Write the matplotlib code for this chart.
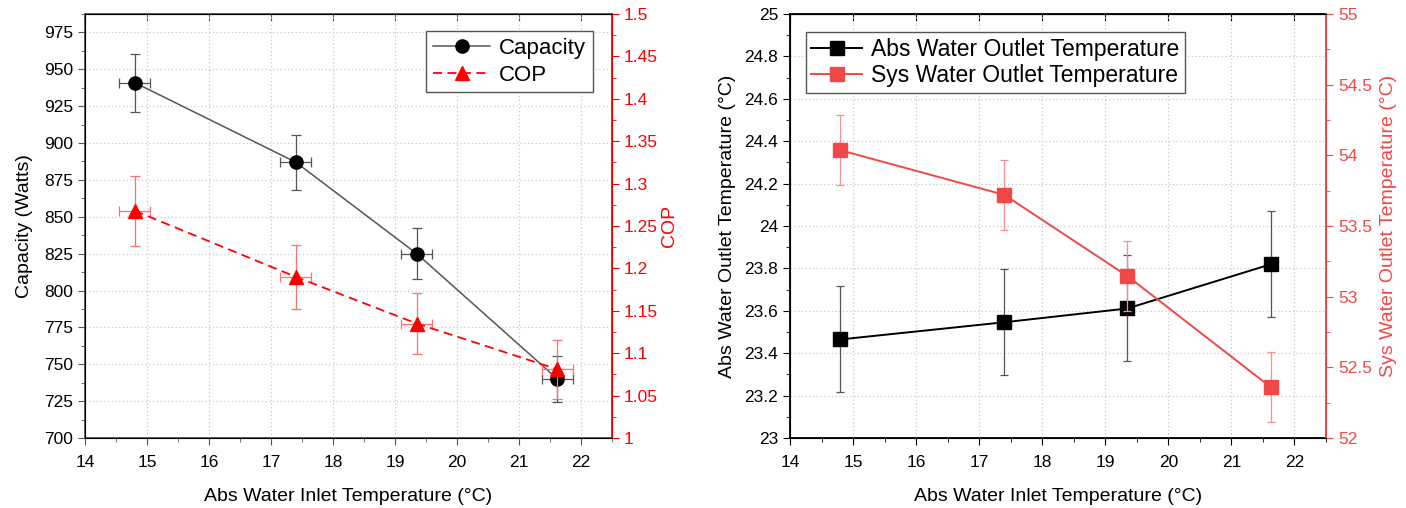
import numpy as np
import matplotlib.pyplot as plt
from matplotlib.ticker import MultipleLocator

plt.rcParams['font.family'] = ['Liberation Sans', 'DejaVu Sans']

# data
inlet_temp = [14.8, 17.4, 19.35, 21.62]
inlet_err = [0.25, 0.25, 0.25, 0.25]

capacity = [941, 887, 825, 740]
capacity_err = [19.7, 18.6, 17.5, 15.5]

cop = [1.268, 1.190, 1.135, 1.081]
cop_err = [0.041, 0.038, 0.036, 0.035]

abs_out = [23.465, 23.546, 23.611, 23.819]
abs_out_err = [0.25, 0.25, 0.25, 0.25]

sys_out = [54.036, 53.72, 53.146, 52.361]
sys_out_err = [0.247, 0.25, 0.25, 0.25]

W, H = 1406, 508
fig = plt.figure(figsize=(W / 100, H / 100), dpi=100)

def box(x0, y0, x1, y1):
    return [x0 / W, 1 - y1 / H, (x1 - x0) / W, (y1 - y0) / H]

RED = '#ff0000'
RED2 = '#f04848'
GRID = dict(linestyle=(0, (1, 2)), color='#c8c8c8', linewidth=0.9)

def style_x(ax, spine_col):
    ax.set_xlim(14, 22.5)
    ax.xaxis.set_major_locator(MultipleLocator(1))
    ax.xaxis.set_minor_locator(MultipleLocator(0.5))
    ax.tick_params(axis='x', which='major', direction='out', length=5, labelsize=12.5, pad=7, color=spine_col)
    ax.tick_params(axis='x', which='minor', direction='out', length=3, color=spine_col)
    ax.set_xlabel('Abs Water Inlet Temperature (°C)', fontsize=14, labelpad=13)
    top = ax.secondary_xaxis('top')
    top.set_xticks(np.arange(14, 23, 1))
    top.tick_params(direction='in', length=5, labeltop=False, color=spine_col)
    top.spines['top'].set_color(spine_col)

# ---------------- left panel ----------------
ax1 = fig.add_axes(box(85, 14, 612, 438))
ax1b = ax1.twinx()

c1 = ax1.errorbar(inlet_temp, capacity, yerr=capacity_err, xerr=inlet_err, fmt='-o',
                  color='#555555', mfc='black', mec='black', ms=9.5, lw=1.1,
                  ecolor='#555555', elinewidth=0.9, capsize=3.5, capthick=0.9,
                  zorder=3)
c2 = ax1b.errorbar(inlet_temp, cop, yerr=cop_err, xerr=inlet_err, fmt='--^',
                   color=RED, mfc=RED, mec=RED, ms=10, lw=1.3, dashes=(5, 3),
                   ecolor='#ff7070', elinewidth=0.9, capsize=3.5, capthick=0.9,
                   zorder=3)

ax1.set_ylim(700, 987.5)
ax1.yaxis.set_major_locator(MultipleLocator(25))
ax1.yaxis.set_minor_locator(MultipleLocator(12.5))
ax1.tick_params(axis='y', which='major', direction='out', length=5, labelsize=12.5, color='#555555')
ax1.tick_params(axis='y', which='minor', direction='out', length=3, color='#555555')
ax1.set_ylabel('Capacity (Watts)', fontsize=14, labelpad=8)
style_x(ax1, '#555555')
ax1.grid(True, which='major', **GRID)
for s in ['left', 'bottom', 'top']:
    ax1.spines[s].set_color('#555555')
    ax1.spines[s].set_linewidth(1.3)

ax1b.set_ylim(1, 1.5)
ax1b.set_yticks(np.arange(1, 1.501, 0.05))
ax1b.set_yticklabels(['1', '1.05', '1.1', '1.15', '1.2', '1.25', '1.3', '1.35', '1.4', '1.45', '1.5'])
ax1b.yaxis.set_minor_locator(MultipleLocator(0.025))
ax1b.tick_params(axis='y', which='major', direction='out', length=5, labelsize=12.5, colors=RED)
ax1b.tick_params(axis='y', which='minor', direction='out', length=3, color=RED)
ax1b.spines['right'].set_color(RED)
ax1b.spines['right'].set_linewidth(1.3)
ax1b.set_ylabel('COP', fontsize=14, color=RED, labelpad=2)

leg = ax1b.legend([c1[0], c2[0]], ['Capacity', 'COP'], loc='upper right',
                  bbox_to_anchor=(0.985, 0.985),
                  fontsize=16, fancybox=False, edgecolor='#555555', framealpha=1,
                  handlelength=2.6, borderpad=0.3, labelspacing=0.25, handletextpad=0.4)
leg.get_frame().set_linewidth(1.0)

# ---------------- right panel ----------------
ax2 = fig.add_axes(box(790, 14, 1326, 438))
ax2b = ax2.twinx()

c3 = ax2.errorbar(inlet_temp, abs_out, yerr=abs_out_err, fmt='-s',
                  color='black', ms=10, lw=1.4,
                  ecolor='#555555', elinewidth=0.9, capsize=3, capthick=0.9,
                  zorder=3)
c4 = ax2b.errorbar(inlet_temp, sys_out, yerr=sys_out_err, fmt='-s',
                   color=RED2, ms=10, lw=1.4,
                   ecolor='#f59090', elinewidth=0.9, capsize=3, capthick=0.9,
                   zorder=3)

ax2.set_ylim(23, 25)
ax2.set_yticks(np.arange(23, 25.001, 0.2))
ax2.set_yticklabels(['23', '23.2', '23.4', '23.6', '23.8', '24', '24.2', '24.4', '24.6', '24.8', '25'])
ax2.yaxis.set_minor_locator(MultipleLocator(0.1))
ax2.tick_params(axis='y', which='major', direction='out', length=5, labelsize=12.5)
ax2.tick_params(axis='y', which='minor', direction='out', length=3)
ax2.set_ylabel('Abs Water Outlet Temperature (°C)', fontsize=14, labelpad=6)
style_x(ax2, 'black')
ax2.grid(True, which='major', **GRID)
for s in ['left', 'bottom', 'top']:
    ax2.spines[s].set_linewidth(1.3)

ax2b.set_ylim(52, 55)
ax2b.set_yticks(np.arange(52, 55.01, 0.5))
ax2b.set_yticklabels(['52', '52.5', '53', '53.5', '54', '54.5', '55'])
ax2b.yaxis.set_minor_locator(MultipleLocator(0.25))
ax2b.tick_params(axis='y', which='major', direction='out', length=5, labelsize=12.5, colors=RED2)
ax2b.tick_params(axis='y', which='minor', direction='out', length=3, color=RED2)
ax2b.spines['right'].set_color(RED2)
ax2b.spines['right'].set_linewidth(1.3)
ax2b.set_ylabel('Sys Water Outlet Temperature (°C)', fontsize=14, color=RED2, labelpad=6)

leg2 = ax2b.legend([c3[0], c4[0]], ['Abs Water Outlet Temperature', 'Sys Water Outlet Temperature'],
                   loc='upper left', bbox_to_anchor=(0.008, 0.985),
                   fontsize=16.5, fancybox=False, edgecolor='#555555', framealpha=1,
                   handlelength=2.2, borderpad=0.25, labelspacing=0.15, handletextpad=0.4)
leg2.get_frame().set_linewidth(1.0)

fig.savefig('out.png', dpi=100)
